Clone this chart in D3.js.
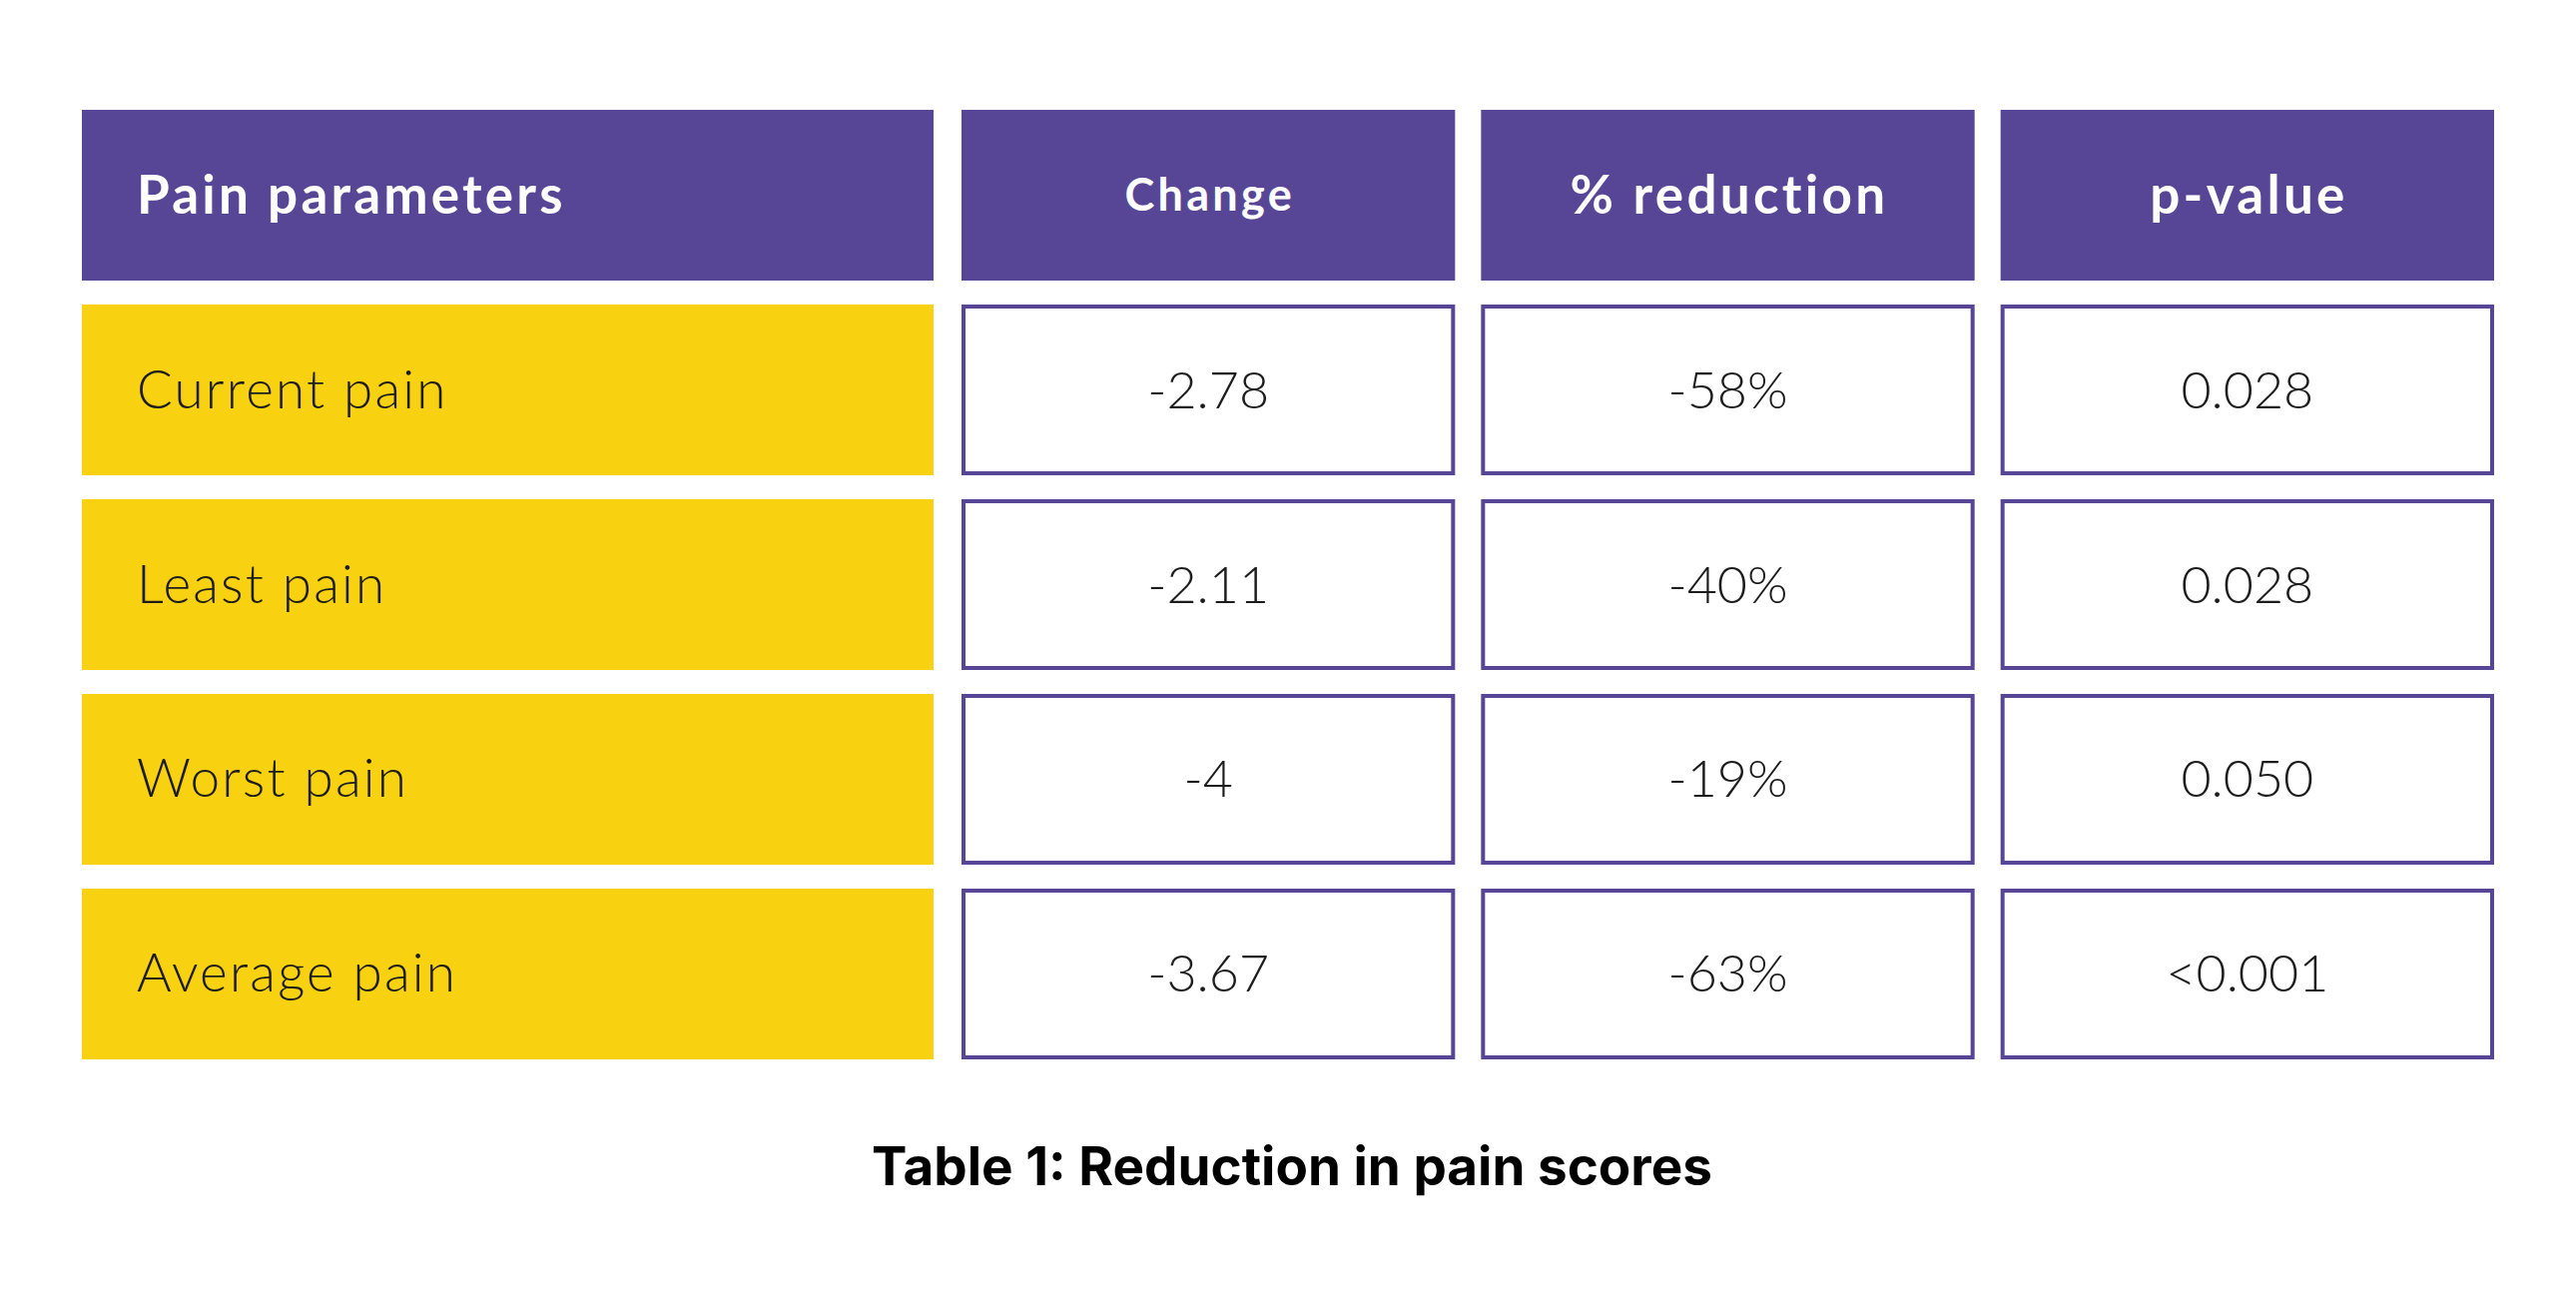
<!DOCTYPE html>
<html>
<head>
<meta charset="utf-8">
<script src="https://cdn.jsdelivr.net/npm/d3@7"></script>
<style>
  html, body { margin: 0; padding: 0; background: #fff; }
</style>
</head>
<body>
<div id="chart"></div>
<script>
const headers = ["Pain parameters", "Change", "% reduction", "p-value"];
const parameters = ["Current pain", "Least pain", "Worst pain", "Average pain"];
const changes = ["-2.78", "-2.11", "-4", "-3.67"];
const reductions = ["-58%", "-40%", "-19%", "-63%"];
const pValues = ["0.028", "0.028", "0.050", "<0.001"];
const caption = "Table 1: Reduction in pain scores";

const width = 2580, height = 1310;
const purple = "#574696", yellow = "#f8d210", ink = "#1c1c1c";

const svg = d3.select("#chart").append("svg")
    .attr("width", width)
    .attr("height", height);

// rows: header + data rows
const y = d3.scaleBand()
    .domain(d3.range(parameters.length + 1))
    .range([110, 1061])
    .paddingInner(0.123);

// value columns
const valueCols = [changes, reductions, pValues];
const x = d3.scaleBand()
    .domain(d3.range(valueCols.length))
    .range([963, 2498])
    .paddingInner(0.05);
const labelX0 = 82, labelX1 = 935;

const font = "Lato, 'Open Sans', sans-serif";

// header
svg.append("rect")
    .attr("x", labelX0).attr("y", y(0))
    .attr("width", labelX1 - labelX0).attr("height", y.bandwidth())
    .attr("fill", purple);
svg.append("text")
    .attr("x", labelX0 + 55).attr("y", y(0) + y.bandwidth() / 2 + 18)
    .attr("font-family", font).attr("font-weight", 700)
    .attr("font-size", 53).attr("letter-spacing", 3.2).attr("fill", "#fff")
    .text(headers[0]);

svg.selectAll("rect.hcell")
    .data(headers.slice(1))
    .enter().append("rect")
    .attr("class", "hcell")
    .attr("x", (d, i) => x(i)).attr("y", y(0))
    .attr("width", x.bandwidth()).attr("height", y.bandwidth())
    .attr("fill", purple);
svg.selectAll("text.htext")
    .data(headers.slice(1))
    .enter().append("text")
    .attr("class", "htext")
    .attr("x", (d, i) => x(i) + x.bandwidth() / 2 + 1.6)
    .attr("y", (d, i) => y(0) + y.bandwidth() / 2 + (i === 0 ? 15 : 18))
    .attr("text-anchor", "middle")
    .attr("font-family", font).attr("font-weight", 700)
    .attr("font-size", (d, i) => i === 0 ? 45 : 53)
    .attr("letter-spacing", 3.3)
    .attr("fill", "#fff")
    .text(d => d);

// label column
svg.selectAll("rect.label")
    .data(parameters)
    .enter().append("rect")
    .attr("class", "label")
    .attr("x", labelX0).attr("y", (d, i) => y(i + 1))
    .attr("width", labelX1 - labelX0).attr("height", y.bandwidth())
    .attr("fill", yellow);
svg.selectAll("text.label")
    .data(parameters)
    .enter().append("text")
    .attr("class", "label")
    .attr("x", labelX0 + 55)
    .attr("y", (d, i) => y(i + 1) + y.bandwidth() / 2 + 18)
    .attr("font-family", font).attr("font-weight", 300)
    .attr("font-size", 53).attr("letter-spacing", 2.2).attr("fill", ink)
    .text(d => d);

// value cells
const cells = [];
valueCols.forEach((col, c) => col.forEach((v, r) => cells.push({ c, r, v })));

svg.selectAll("rect.cell")
    .data(cells)
    .enter().append("rect")
    .attr("class", "cell")
    .attr("x", d => x(d.c) + 2).attr("y", d => y(d.r + 1) + 2)
    .attr("width", x.bandwidth() - 4).attr("height", y.bandwidth() - 4)
    .attr("fill", "#fff").attr("stroke", purple).attr("stroke-width", 4);
svg.selectAll("text.cell")
    .data(cells)
    .enter().append("text")
    .attr("class", "cell")
    .attr("x", d => x(d.c) + x.bandwidth() / 2)
    .attr("y", d => y(d.r + 1) + y.bandwidth() / 2 + 18)
    .attr("text-anchor", "middle")
    .attr("font-family", font).attr("font-weight", 300)
    .attr("font-size", 52).attr("fill", ink)
    .text(d => d.v);

// caption
svg.append("text")
    .attr("x", (labelX0 + 2498) / 2 + 4).attr("y", 1187)
    .attr("text-anchor", "middle")
    .attr("font-family", "Inter, Roboto, sans-serif").attr("font-weight", 700)
    .attr("font-size", 53).attr("fill", "#000")
    .text(caption);
</script>
</body>
</html>
